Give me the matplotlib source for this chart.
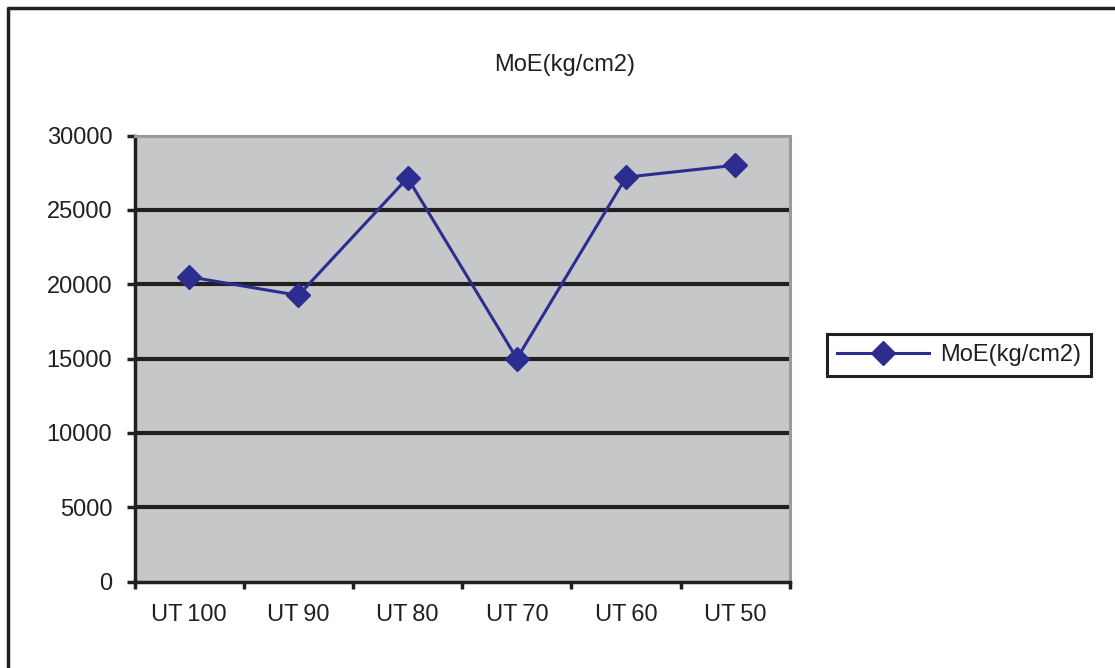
import matplotlib
matplotlib.use("Agg")
import matplotlib.pyplot as plt
from matplotlib.lines import Line2D

# Data
categories = ["UT\u2009100", "UT\u200990", "UT\u200980", "UT\u200970", "UT\u200960", "UT\u200950"]
moe_values = [20500, 19250, 27150, 15000, 27200, 28000]
y_ticks = [0, 5000, 10000, 15000, 20000, 25000, 30000]
series_name = "MoE(kg/cm2)"

plt.rcParams["font.family"] = ["Liberation Sans", "DejaVu Sans"]

DARK = "#231F20"
LINE = "#2B2E8F"
PLOT_BG = "#C6C7C9"
FS = 17

fig = plt.figure(figsize=(11.15, 6.68), dpi=100)
fig.patch.set_facecolor("white")

W, H = 1115, 668
ax = fig.add_axes([134.5 / W, 1 - 581.7 / H, (790 - 134.5) / W, (581.7 - 135.5) / H])
ax.set_facecolor(PLOT_BG)

x = list(range(len(categories)))
ax.plot(x, moe_values, color=LINE, lw=2.2, marker="D", markersize=12,
        markerfacecolor=LINE, markeredgecolor=LINE, markeredgewidth=1,
        label=series_name, zorder=5, clip_on=False)

ax.set_xlim(-0.5, len(categories) - 0.5)
ax.set_ylim(0, 30000)

# horizontal gridlines
for v in y_ticks[1:-1]:
    ax.axhline(v, color=DARK, lw=3, zorder=2)

# y axis
ax.set_yticks(y_ticks)
ax.set_yticklabels([str(v) for v in y_ticks])
ax.tick_params(axis="y", direction="out", length=6, width=2.5, color=DARK,
               pad=10, labelsize=FS, labelcolor=DARK)

# x axis: ticks at category boundaries, labels centered
ax.set_xticks([i - 0.5 for i in range(len(categories) + 1)])
ax.set_xticklabels([])
ax.set_xticks(x, minor=True)
ax.set_xticklabels(categories, minor=True)
ax.tick_params(axis="x", which="major", direction="out", length=5, width=2.5, color=DARK)
ax.tick_params(axis="x", which="minor", length=0, pad=16, labelsize=FS, labelcolor=DARK)

for side in ("left", "bottom"):
    ax.spines[side].set_color(DARK)
    ax.spines[side].set_linewidth(2.5)
for side in ("top", "right"):
    ax.spines[side].set_color("#9A9A9C")
    ax.spines[side].set_linewidth(2.2)

# title
fig.text(565 / W, 1 - 65 / H, series_name, ha="center", va="center",
         fontsize=FS, color=DARK)

# legend
leg = fig.legend(handles=[Line2D([0], [0], color=LINE, lw=2.2, marker="D", markersize=12,
                                 markerfacecolor=LINE, markeredgecolor=LINE)],
                 labels=[series_name], loc="center left",
                 bbox_to_anchor=(827 / W, 1 - 355 / H), bbox_transform=fig.transFigure,
                 fancybox=False, shadow=False, framealpha=1, fontsize=FS,
                 handlelength=3.9, numpoints=1, borderpad=0.42, handletextpad=0.45,
                 borderaxespad=0)
leg.get_frame().set_edgecolor(DARK)
leg.get_frame().set_linewidth(2.2)
for t in leg.get_texts():
    t.set_color(DARK)

# outer chart border (top and left edges)
fig.add_artist(Line2D([6.5 / W, 1.0], [1 - 7.5 / H, 1 - 7.5 / H], color=DARK, lw=2.5,
                      transform=fig.transFigure, solid_capstyle="butt"))
fig.add_artist(Line2D([7.5 / W, 7.5 / W], [1 - 6.5 / H, 0.0], color=DARK, lw=2.5,
                      transform=fig.transFigure, solid_capstyle="butt"))

fig.savefig("out.png", dpi=100, facecolor="white")
